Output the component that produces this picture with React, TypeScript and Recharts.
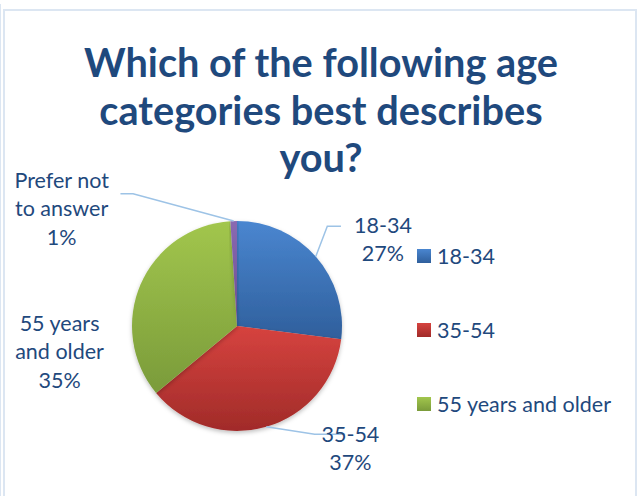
import { PieChart, Pie, Cell, Legend } from 'recharts';

const categories = ['18-34', '35-54', '55 years and older', 'Prefer not to answer'];
const shares = [27, 37, 35, 1];
const labelLines = [['18-34', '27%'], ['35-54', '37%'], ['55 years', 'and older', '35%'], ['Prefer not', 'to answer', '1%']];
const legendCount = 3;

const gradients = [
  ['#4A86D0', '#2F5F9C'],
  ['#D6433F', '#A12B29'],
  ['#A2C64D', '#7A9B3A'],
  ['#8A6AB2', '#6A4C8E'],
];

// label block centre relative to the pie centre, in units of the radius
const labelSpots = [
  { x: 1.39, y: -0.83, elbow: [0.86, -0.95], end: [0.99, -0.95] },
  { x: 1.08, y: 1.16, elbow: [0.74, 1.03], end: [1.03, 1.03] },
  { x: -1.69, y: 0.24, elbow: null, end: null },
  { x: -1.67, y: -1.12, elbow: [-0.99, -1.26], end: [-1.11, -1.26] },
];

const data = categories.map((name, i) => ({ name, value: shares[i] }));

const textColor = '#1F497D';
const font = 'Lato, "Open Sans", sans-serif';
const RAD = Math.PI / 180;

const renderLabel = (props: any) => {
  const { cx, cy, outerRadius, index } = props;
  const spot = labelSpots[index];
  const lines = labelLines[index];
  const x = cx + spot.x * outerRadius;
  const y = cy + spot.y * outerRadius;
  const lh = 28.5;
  const top = y - ((lines.length - 1) * lh) / 2;
  return (
    <text x={x} y={top} textAnchor="middle" dominantBaseline="central" fill={textColor} fontSize={21.5} fontFamily={font}>
      {lines.map((t, k) => (
        <tspan key={k} x={x} y={top + k * lh}>{t}</tspan>
      ))}
    </text>
  );
};

const renderLine = (props: any) => {
  const { cx, cy, outerRadius, midAngle, index } = props;
  const spot = labelSpots[index];
  if (!spot.elbow || !spot.end) return <g />;
  const sx = cx + outerRadius * Math.cos(-midAngle * RAD);
  const sy = cy + outerRadius * Math.sin(-midAngle * RAD);
  const ex = cx + spot.elbow[0] * outerRadius;
  const ey = cy + spot.elbow[1] * outerRadius;
  const fx = cx + spot.end[0] * outerRadius;
  const fy = cy + spot.end[1] * outerRadius;
  return <polyline points={`${sx},${sy} ${ex},${ey} ${fx},${fy}`} fill="none" stroke="#9DC3E6" strokeWidth={1.5} />;
};

const renderLegend = (props: any) => {
  const items = (props.payload || []).slice(0, legendCount);
  return (
    <div style={{ fontFamily: font }}>
      {items.map((p: any, i: number) => (
        <div key={p.value} style={{ display: 'flex', alignItems: 'center', height: 74 }}>
          <span
            style={{
              width: 14,
              height: 14,
              marginRight: 6,
              background: `linear-gradient(${gradients[i][0]}, ${gradients[i][1]})`,
            }}
          />
          <span style={{ color: textColor, fontSize: 21.5 }}>{categories[i]}</span>
        </div>
      ))}
    </div>
  );
};

export default function App() {
  return (
    <div style={{ position: 'relative', width: 642, height: 496, background: '#fff', overflow: 'hidden' }}>
      <style>{`body{margin:0}`}</style>
      <div style={{ position: 'absolute', left: 0, top: 4, width: 1, height: 492, background: '#DCE6F2' }} />
      <div
        style={{
          position: 'absolute',
          left: 3,
          top: 9,
          width: 634,
          height: 500,
          border: '2px solid #DCE6F2',
          boxSizing: 'border-box',
        }}
      />
      <div
        style={{
          position: 'absolute',
          left: 0,
          top: 38,
          width: 642,
          textAlign: 'center',
          color: textColor,
          fontFamily: font,
          fontWeight: 700,
          fontSize: 39.7,
          lineHeight: '47.5px',
        }}
      >
        Which of the following age<br />categories best describes<br />you?
      </div>
      <PieChart
        width={642}
        height={496}
        margin={{ top: 0, right: 0, bottom: 0, left: 0 }}
        style={{ position: 'absolute', left: 0, top: 0 }}
      >
        <defs>
          {gradients.map((g, i) => (
            <linearGradient key={i} id={`slice${i}`} x1="0" y1="0" x2="0" y2="1">
              <stop offset="0%" stopColor={g[0]} />
              <stop offset="100%" stopColor={g[1]} />
            </linearGradient>
          ))}
          <filter id="pieShadow" x="-20%" y="-20%" width="140%" height="140%">
            <feDropShadow dx="0" dy="2" stdDeviation="2" floodColor="#000" floodOpacity="0.25" />
          </filter>
        </defs>
        <Pie
          data={data}
          dataKey="value"
          nameKey="name"
          cx={237}
          cy={326}
          outerRadius={105}
          startAngle={90}
          endAngle={-270}
          stroke="none"
          label={renderLabel}
          labelLine={renderLine}
          isAnimationActive={false}
          style={{ filter: 'url(#pieShadow)' }}
        >
          {data.map((d, i) => (
            <Cell key={d.name} fill={`url(#slice${i})`} />
          ))}
        </Pie>
        <Legend
          layout="vertical"
          content={renderLegend}
          wrapperStyle={{ position: 'absolute', left: 417, top: 219, width: 220 }}
        />
      </PieChart>
    </div>
  );
}
